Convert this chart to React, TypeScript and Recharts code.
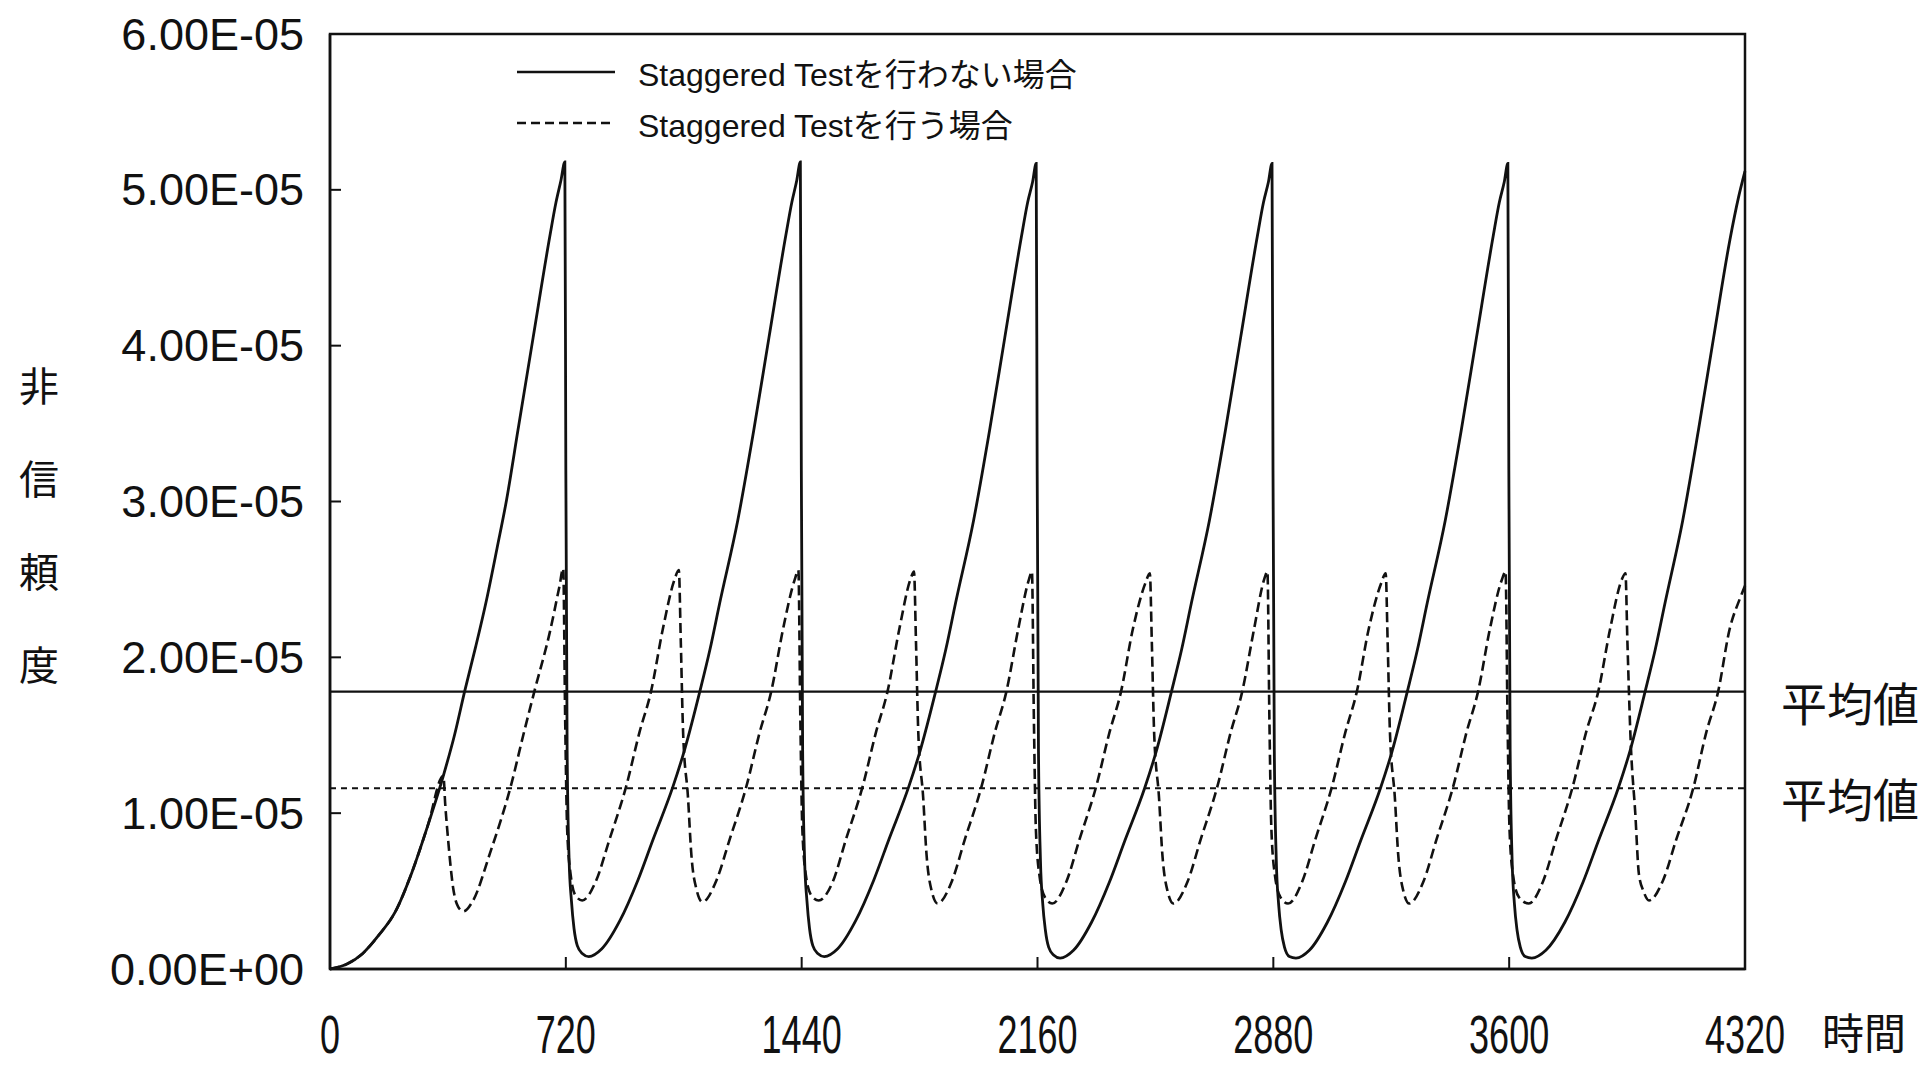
import { Line, LineChart, ReferenceArea, ReferenceLine, XAxis, YAxis } from "recharts";

// hours, unreliability in units of 1e-5
const xTicks = [0, 720, 1440, 2160, 2880, 3600, 4320];
const yTicks = [0, 1, 2, 3, 4, 5, 6];

const avgNoStagger = 1.78;
const avgStagger = 1.16;

const noStaggerPts: [number, number][] = [
  [0, 0], [50, 0.03], [100, 0.1], [150, 0.22], [200, 0.37], [250, 0.62], [300, 0.93], [346, 1.24],
  [380, 1.5], [412, 1.79], [445, 2.07], [478, 2.37], [510, 2.7], [539, 3.01], [574, 3.46], [620, 4.05],
  [671, 4.7], [690, 4.92], [705, 5.06], [717, 5.18], [720, 3.2], [724, 1.4], [730, 0.7], [737, 0.44], [745, 0.26],
  [755, 0.15], [770, 0.1], [790, 0.08],
  [830, 0.13], [885, 0.31], [940, 0.57], [986, 0.83], [1047, 1.17], [1083, 1.41], [1129, 1.78],
  [1160, 2.05], [1190, 2.35], [1245, 2.88], [1294, 3.46], [1340, 4.05], [1391, 4.7], [1410, 4.92], [1425, 5.06],
  [1436, 5.18], [1439, 3.2], [1443, 1.4], [1449, 0.7], [1456, 0.44], [1464, 0.26], [1474, 0.15],
  [1489, 0.1], [1509, 0.08],
  [1550, 0.13], [1605, 0.31], [1660, 0.57], [1706, 0.83], [1767, 1.17], [1803, 1.41], [1849, 1.78],
  [1880, 2.05], [1910, 2.35], [1965, 2.88], [2014, 3.46], [2060, 4.05], [2111, 4.7], [2130, 4.92], [2145, 5.05],
  [2156, 5.17], [2159, 3.2], [2163, 1.4], [2169, 0.7], [2176, 0.42], [2184, 0.25], [2194, 0.14],
  [2209, 0.09], [2229, 0.07],
  [2270, 0.12], [2325, 0.3], [2380, 0.56], [2426, 0.82], [2487, 1.16], [2523, 1.4], [2569, 1.78],
  [2600, 2.05], [2630, 2.35], [2685, 2.88], [2734, 3.46], [2780, 4.05], [2831, 4.7], [2850, 4.92], [2865, 5.05],
  [2876, 5.17], [2879, 3.2], [2883, 1.4], [2889, 0.7], [2896, 0.42], [2904, 0.25], [2914, 0.14],
  [2929, 0.08], [2949, 0.07],
  [2990, 0.12], [3045, 0.3], [3100, 0.56], [3146, 0.82], [3207, 1.16], [3243, 1.4], [3289, 1.78],
  [3320, 2.05], [3350, 2.35], [3405, 2.88], [3454, 3.46], [3500, 4.05], [3551, 4.7], [3570, 4.92], [3585, 5.05],
  [3596, 5.17], [3599, 3.2], [3603, 1.4], [3609, 0.7], [3616, 0.42], [3624, 0.25], [3634, 0.14],
  [3649, 0.08], [3669, 0.07],
  [3712, 0.12], [3770, 0.3], [3826, 0.56], [3872, 0.82], [3933, 1.16], [3969, 1.4], [4015, 1.78],
  [4046, 2.05], [4076, 2.35], [4130, 2.88], [4178, 3.46], [4224, 4.05], [4274, 4.68], [4300, 4.95],
  [4320, 5.12],
];

const staggerPts: [number, number][] = [
  [0, 0], [50, 0.03], [100, 0.1], [150, 0.22], [200, 0.37], [250, 0.62], [300, 0.93], [346, 1.24],
  [352, 1.05], [361, 0.82], [376, 0.52], [391, 0.4], [407, 0.37], [437, 0.44], [488, 0.74],
  [554, 1.19], [590, 1.5], [625, 1.79], [671, 2.16], [700, 2.45], [712, 2.57],
  [718, 1.6], [724, 0.9], [735, 0.6], [750, 0.47], [770, 0.44],
  [813, 0.57], [853, 0.83], [904, 1.17], [945, 1.52], [980, 1.78], [1016, 2.18], [1052, 2.5], [1065, 2.56],
  [1071, 2.1], [1078, 1.52], [1093, 1.1], [1103, 0.74], [1119, 0.51], [1137, 0.43],
  [1180, 0.57], [1220, 0.83], [1271, 1.17], [1312, 1.52], [1347, 1.78], [1383, 2.18], [1419, 2.5], [1430, 2.56],
  [1436, 1.6], [1442, 0.9], [1453, 0.6], [1470, 0.47], [1492, 0.44],
  [1535, 0.56], [1575, 0.83], [1626, 1.17], [1667, 1.52], [1702, 1.78], [1738, 2.18], [1772, 2.5], [1783, 2.55],
  [1789, 2.1], [1796, 1.52], [1811, 1.1], [1821, 0.74], [1837, 0.5], [1855, 0.42],
  [1898, 0.56], [1938, 0.83], [1989, 1.17], [2030, 1.52], [2065, 1.78], [2101, 2.18], [2134, 2.5], [2143, 2.55],
  [2149, 1.6], [2155, 0.9], [2166, 0.6], [2183, 0.46], [2205, 0.42],
  [2248, 0.56], [2288, 0.83], [2339, 1.17], [2380, 1.52], [2415, 1.78], [2451, 2.18], [2490, 2.48], [2503, 2.54],
  [2509, 2.1], [2516, 1.52], [2531, 1.1], [2541, 0.74], [2557, 0.5], [2575, 0.42],
  [2618, 0.56], [2658, 0.83], [2709, 1.17], [2750, 1.52], [2785, 1.78], [2821, 2.18], [2852, 2.5], [2862, 2.55],
  [2868, 1.6], [2874, 0.9], [2885, 0.6], [2902, 0.46], [2925, 0.42],
  [2968, 0.56], [3008, 0.83], [3059, 1.17], [3100, 1.52], [3135, 1.78], [3171, 2.18], [3210, 2.48], [3223, 2.54],
  [3229, 2.1], [3236, 1.52], [3251, 1.1], [3261, 0.74], [3277, 0.5], [3295, 0.42],
  [3338, 0.56], [3378, 0.83], [3429, 1.17], [3470, 1.52], [3505, 1.78], [3541, 2.18], [3578, 2.5], [3589, 2.55],
  [3595, 1.6], [3601, 0.9], [3612, 0.6], [3630, 0.46], [3660, 0.42],
  [3703, 0.56], [3743, 0.83], [3794, 1.17], [3835, 1.52], [3872, 1.78], [3908, 2.18], [3944, 2.5], [3955, 2.54],
  [3961, 2.1], [3971, 1.46], [3985, 1.0], [3996, 0.61], [4010, 0.5], [4027, 0.44],
  [4070, 0.57], [4110, 0.83], [4162, 1.16], [4202, 1.52], [4238, 1.78], [4273, 2.18], [4305, 2.38], [4320, 2.46],
];

const noStaggerData = noStaggerPts.map(([t, v]) => ({ t, v }));
const staggerData = staggerPts.map(([t, v]) => ({ t, v }));

const INK = "#111";
const SANS = "'Liberation Sans', Arial, 'Noto Sans CJK JP', sans-serif";
const CJK = "'Noto Sans CJK JP', sans-serif";

function fmtY(v: number) {
  return v === 0 ? "0.00E+00" : `${v.toFixed(2)}E-05`;
}

function YTick({ x, y, payload }: any) {
  return (
    <g>
      <line x1={x} y1={y} x2={x + 11} y2={y} stroke={INK} strokeWidth={2} />
      <text x={x - 26} y={y} textAnchor="end" dominantBaseline="central" fontSize={45} fontFamily={SANS} fill={INK}>
        {fmtY(payload.value)}
      </text>
    </g>
  );
}

function XTick({ x, y, payload }: any) {
  return (
    <g>
      <line x1={x} y1={y} x2={x} y2={y - 12} stroke={INK} strokeWidth={2} />
      <text transform={`translate(${x},${y + 84}) scale(0.68,1)`} textAnchor="middle" fontSize={53} fontFamily={SANS} fill={INK}>
        {payload.value}
      </text>
    </g>
  );
}

function avgLabel(props: any) {
  const vb = props.viewBox;
  return (
    <text x={vb.x + vb.width + 36} y={vb.y + 9} dominantBaseline="central" fontSize={46} fontFamily={CJK} fill={INK}>
      平均値
    </text>
  );
}

export default function App() {
  return (
    <div style={{ position: "absolute", left: 0, top: 0, width: 1930, height: 1065, background: "#fff" }}>
      <LineChart width={1930} height={1065} margin={{ top: 34, right: 185, bottom: 0, left: 0 }}>
        <XAxis
          dataKey="t"
          type="number"
          domain={[0, 4320]}
          ticks={xTicks}
          height={96}
          tickSize={0}
          tickMargin={0}
          axisLine={{ stroke: INK, strokeWidth: 2.5 }}
          tickLine={false}
          tick={<XTick />}
          interval={0}
        />
        <YAxis
          type="number"
          domain={[0, 6]}
          ticks={yTicks}
          width={330}
          tickSize={0}
          tickMargin={0}
          axisLine={{ stroke: INK, strokeWidth: 2.5 }}
          tickLine={false}
          tick={<YTick />}
          interval={0}
        />
        <ReferenceArea x1={0} x2={4320} y1={0} y2={6} fill="none" stroke={INK} strokeWidth={2.5} />
        <ReferenceLine y={avgNoStagger} stroke={INK} strokeWidth={2.2} label={{ content: avgLabel }} />
        <ReferenceLine y={avgStagger} stroke={INK} strokeWidth={2.2} strokeDasharray="6 5" label={{ content: avgLabel }} />
        <Line
          data={noStaggerData}
          dataKey="v"
          type="monotone"
          stroke={INK}
          strokeWidth={2.8}
          dot={false}
          isAnimationActive={false}
        />
        <Line
          data={staggerData}
          dataKey="v"
          type="monotone"
          stroke={INK}
          strokeWidth={2.6}
          strokeDasharray="10 5"
          dot={false}
          isAnimationActive={false}
        />
      </LineChart>

      {/* legend */}
      <div style={{ position: "absolute", left: 517, top: 51, fontFamily: SANS, fontSize: 32, color: INK }}>
        <div style={{ display: "flex", alignItems: "center", height: 42 }}>
          <svg width={100} height={10}>
            <line x1={0} y1={5} x2={98} y2={5} stroke={INK} strokeWidth={2.6} />
          </svg>
          <span style={{ marginLeft: 21 }}>Staggered Testを行わない場合</span>
        </div>
        <div style={{ display: "flex", alignItems: "center", height: 42, marginTop: 9 }}>
          <svg width={100} height={10}>
            <line x1={0} y1={5} x2={98} y2={5} stroke={INK} strokeWidth={2.6} strokeDasharray="9 5" />
          </svg>
          <span style={{ marginLeft: 21 }}>Staggered Testを行う場合</span>
        </div>
      </div>

      {/* y axis title, stacked vertically */}
      <div style={{ position: "absolute", left: 18, top: 358, width: 42, fontFamily: CJK, fontSize: 40, color: INK, textAlign: "center" }}>
        {["非", "信", "頼", "度"].map((c) => (
          <div key={c} style={{ height: 93, lineHeight: "52px" }}>
            {c}
          </div>
        ))}
      </div>

      {/* x axis title */}
      <div style={{ position: "absolute", left: 1822, top: 1010, fontFamily: CJK, fontSize: 42, lineHeight: 1, color: INK, whiteSpace: "nowrap" }}>
        時間
      </div>
    </div>
  );
}
